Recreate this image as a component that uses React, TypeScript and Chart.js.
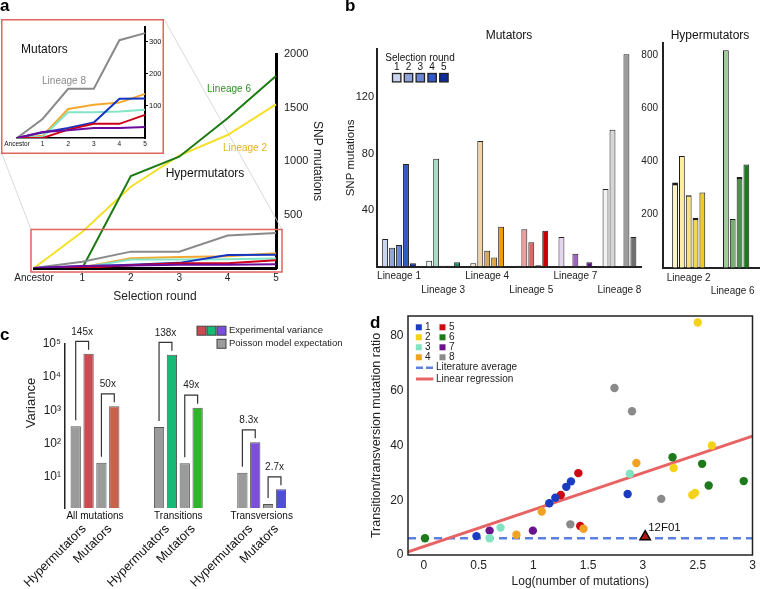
import React, { useEffect, useRef } from 'react';
import { Chart, registerables } from 'chart.js';
Chart.register(...registerables);

const FONT = "'Liberation Sans', Arial, Helvetica, sans-serif";
Chart.defaults.font.family = FONT;
Chart.defaults.color = '#222';

// ---------------- Panel a : cumulative SNP mutations per selection round ----------------
const roundLabels = ['Ancestor', '1', '2', '3', '4', '5'];
const snpLineage1 = [0, 17, 31, 48, 122, 123];
const snpLineage2 = [0, 339, 760, 1050, 1243, 1530];
const snpLineage3 = [0, 4, 80, 80, 82, 88];
const snpLineage4 = [0, 7, 90, 103, 110, 137];
const snpLineage5 = [0, 0, 26, 44, 44, 72];
const snpLineage6 = [0, 0, 860, 1040, 1399, 1794];
const snpLineage7 = [0, 19, 24, 31, 31, 34];
const snpLineage8 = [0, 59, 153, 153, 304, 326];
const mainTicks = [500, 1000, 1500, 2000];
const insetTicks = [100, 200, 300];

// ---------------- Panel b : SNP mutations per round ----------------
const mutLineages = ['Lineage 1', 'Lineage 3', 'Lineage 4', 'Lineage 5', 'Lineage 7', 'Lineage 8'];
const mutRound1 = [19.5, 4, 2.3, 0.5, 21, 55];
const mutRound2 = [13.3, 76.5, 89, 26.4, 0, 97];
const mutRound3 = [15.2, 0.6, 11.2, 17.2, 9, 0];
const mutRound4 = [72.7, 0.6, 6.3, 0.8, 0.6, 150.5];
const mutRound5 = [2.3, 3, 28.2, 25.4, 3, 21];
const mutTicks = [40, 80, 120];

const hypLineages = ['Lineage 2', 'Lineage 6'];
const hypRound1 = [320, 0];
const hypRound2 = [420, 818];
const hypRound3 = [272, 183];
const hypRound4 = [188, 341];
const hypRound5 = [283, 388];
const hypTicks = [200, 400, 600, 800];
const roundNames = ['1', '2', '3', '4', '5'];

// ---------------- Panel c : variance ----------------
const varGroups = ['All mutations', 'Transitions', 'Transversions'];
const poissonHyper = [333, 317, 13.4];
const experimentalHyper = [49000, 45700, 110];
const poissonMut = [27, 26, 1.56];
const experimentalMut = [1320, 1200, 4.3];
const foldHyper = ['145x', '138x', '8.3x'];
const foldMut = ['50x', '49x', '2.7x'];
const pairLabels = ['Hypermutators', 'Mutators'];
const varTickValues = [10, 100, 1000, 10000, 100000];
const varTickLabels = ['10¹', '10²', '10³', '10⁴', '10⁵'];

// ---------------- Panel d : Ts/Tv ratio vs log(number of mutations) ----------------
const dLineages = ['1', '2', '3', '4', '5', '6', '7', '8'];
const dX1 = [0.48, 1.145, 1.2, 1.3, 1.343, 1.86];
const dY1 = [6.9, 18.9, 20.9, 24.9, 26.9, 22.3];
const dX2 = [2.28, 2.5, 2.63, 2.45, 2.476];
const dY2 = [31.8, 84.9, 40.0, 21.9, 22.7];
const dX3 = [0.6, 0.7, 1.88];
const dY3 = [6.1, 10.0, 29.7];
const dX4 = [0.845, 1.076, 1.457, 1.94];
const dY4 = [7.4, 15.9, 9.6, 33.6];
const dX5 = [1.25, 1.41, 1.427];
const dY5 = [21.9, 29.9, 10.6];
const dX6 = [0.01, 2.27, 2.54, 2.6, 2.92];
const dY6 = [6.1, 35.7, 33.3, 25.4, 27.0];
const dX7 = [0.6, 0.995];
const dY7 = [8.9, 8.9];
const dX8 = [1.337, 1.74, 1.9, 2.167];
const dY8 = [11.2, 61.0, 52.5, 20.5];
const strain12F01 = { x: 2.02, y: 6.7 };
const literatureAverage = 6.1;
const regressionX = [-0.145, 3];
const regressionY = [1.2, 43.4];
const dTickValues = [0, 0.5, 1, 1.5, 2, 2.5, 3];
const dTickLabels = ['0', '0.5', '1', '1.5', '3', '2.5', '3'];
const dYTicks = [0, 20, 40, 60, 80];

// ---------------- styles ----------------
const lineColors = ['#1434c4', '#f4e02a', '#82e4c6', '#f5a82e', '#cc0018', '#1c7a12', '#6c0c9c', '#8a8a8a'];
const mutShades = [
  ['#c9d4f0', '#8fa4dc', '#6a88d6', '#3257c6', '#0f2a9c'],
  ['#eaf6f0', '#a9dcc6', '#6cc4a0', '#44ac82', '#1f8a5e'],
  ['#f7efdc', '#f0d4a4', '#d9a860', '#e0a444', '#f09a10'],
  ['#f6dede', '#f09c9c', '#e06666', '#c83030', '#c80000'],
  ['#e4d6ec', '#c8a8dc', '#a064c0', '#7a30a0', '#5a0a86'],
  ['#f2f2f2', '#d6d6d6', '#b0b0b0', '#9c9c9c', '#707070'],
];
const hypShades = [
  ['#fff4c8', '#ffeea0', '#f8e27a', '#f5d84a', '#f2ca20'],
  ['#d0e8c8', '#a0cc98', '#78b070', '#4a944a', '#1e7a1e'],
];
const hypCaps = [[3, 0], [1, 1], [1.5, 1], [2.5, 2.5], [1, 1]];
const expHyperColors = ['#cc4a52', '#18b877', '#7b4fd9'];
const expMutColors = ['#c9624a', '#2fb52a', '#4f4fd6'];
const dColors = ['#1a3cc0', '#f5d21a', '#82e3c3', '#f0a225', '#cc0a14', '#1c7a1a', '#6b138f', '#8a8a8a'];

function drawText(ctx: any, text: string, x: number, y: number, o: any = {}) {
  ctx.save();
  ctx.font = `${o.weight || 'normal'} ${o.size || 10}px ${FONT}`;
  ctx.fillStyle = o.color || '#222';
  ctx.textAlign = o.align || 'center';
  ctx.textBaseline = o.baseline || 'middle';
  ctx.translate(x, y);
  if (o.rot) ctx.rotate(o.rot);
  ctx.fillText(text, 0, 0);
  ctx.restore();
}

const common = {
  responsive: false,
  animation: false,
  devicePixelRatio: 1,
  events: [],
};
const noPlugins = { legend: { display: false }, tooltip: { enabled: false }, title: { display: false } };
const noGrid = { display: false, drawTicks: false };
const plain = (v: any) => String(v);

const allSnps = [snpLineage1, snpLineage2, snpLineage3, snpLineage4, snpLineage5, snpLineage6, snpLineage7, snpLineage8];
const drawOrder = [6, 4, 0, 2, 3, 7, 5, 1];

// ---------- a: main ----------
function configMain(): any {
  const zoomTop = 360;
  const plugin = {
    id: 'panelA',
    beforeDatasetsDraw(chart: any) {
      const { ctx, chartArea, scales } = chart;
      const rx0 = chartArea.left - 3, rx1 = chartArea.right + 6;
      const ry0 = scales.y.getPixelForValue(zoomTop);
      ctx.save();
      ctx.strokeStyle = '#cfcfcf';
      ctx.lineWidth = 0.8;
      ctx.beginPath();
      ctx.moveTo(2, 154); ctx.lineTo(rx0, ry0);
      ctx.moveTo(164, 19); ctx.lineTo(rx1, ry0);
      ctx.stroke();
      ctx.restore();
    },
    afterDatasetsDraw(chart: any) {
      const { ctx, chartArea, scales } = chart;
      const rx0 = chartArea.left - 3, rx1 = chartArea.right + 6;
      const ry0 = scales.y.getPixelForValue(zoomTop), ry1 = chartArea.bottom + 4;
      ctx.save();
      ctx.strokeStyle = '#e0645e';
      ctx.lineWidth = 1.5;
      ctx.strokeRect(rx0, ry0, rx1 - rx0, ry1 - ry0);
      ctx.restore();
      drawText(ctx, 'Lineage 6', 229, 89, { size: 10, color: '#2e8e22' });
      drawText(ctx, 'Lineage 2', 245, 148, { size: 10, color: '#e2b41e' });
      drawText(ctx, 'Hypermutators', 205, 174, { size: 12, color: '#111' });
    },
  };
  return {
    type: 'line',
    data: {
      labels: roundLabels,
      datasets: drawOrder.map((i) => ({
        data: allSnps[i], borderColor: lineColors[i], borderWidth: 2, pointRadius: 0, tension: 0, fill: false,
      })),
    },
    options: {
      ...common,
      layout: { padding: { top: 54, left: 34, right: 0, bottom: 0 } },
      plugins: noPlugins,
      scales: {
        x: {
          grid: noGrid,
          border: { display: true, color: '#000', width: 3 },
          ticks: { font: { size: 10 }, color: '#222', padding: 4, maxRotation: 0, autoSkip: false },
          title: { display: true, text: 'Selection round', font: { size: 12 }, color: '#222', padding: { top: 0, bottom: 6 } },
          afterFit: (s: any) => { s.height = 42; },
        },
        y: {
          position: 'right', min: 0, max: 2000,
          grid: noGrid,
          border: { display: true, color: '#000', width: 3 },
          ticks: { font: { size: 11 }, color: '#222', padding: 8, callback: plain },
          afterBuildTicks: (s: any) => { s.ticks = mainTicks.map((v) => ({ value: v })); },
          title: { display: true, text: 'SNP mutations', font: { size: 12 }, color: '#222', padding: { top: 20, bottom: 0 } },
          afterFit: (s: any) => { s.width = 69; },
        },
      },
    },
    plugins: [plugin],
  };
}

// ---------- a: inset ----------
function configInset(): any {
  const plugin = {
    id: 'inset',
    afterDraw(chart: any) {
      const { ctx, width, height } = chart;
      ctx.save();
      ctx.strokeStyle = '#e0645e';
      ctx.lineWidth = 1.5;
      ctx.strokeRect(0.75, 0.75, width - 1.5, height - 1.5);
      ctx.restore();
      drawText(ctx, 'Mutators', 20, 31, { size: 12, align: 'left', color: '#111' });
      drawText(ctx, 'Lineage 8', 63, 62, { size: 10, color: '#8a8a8a' });
    },
  };
  return {
    type: 'line',
    data: {
      labels: roundLabels,
      datasets: drawOrder.filter((i) => i !== 1 && i !== 5).map((i) => ({
        data: allSnps[i], borderColor: lineColors[i], borderWidth: 2, pointRadius: 0, tension: 0, fill: false,
      })),
    },
    options: {
      ...common,
      layout: { padding: { top: 8, left: 16, right: 0, bottom: 0 } },
      plugins: noPlugins,
      scales: {
        x: {
          grid: noGrid,
          border: { display: true, color: '#000', width: 1.5 },
          ticks: { font: { size: 6.5 }, color: '#111', padding: 2, maxRotation: 0, autoSkip: false },
          afterFit: (s: any) => { s.height = 16; },
        },
        y: {
          position: 'right', min: 0, max: 345,
          grid: { display: true, drawOnChartArea: false, drawTicks: true, tickLength: 3, color: '#000' },
          border: { display: true, color: '#000', width: 2 },
          ticks: { font: { size: 7.5 }, color: '#111', padding: 1 },
          afterBuildTicks: (s: any) => { s.ticks = insetTicks.map((v) => ({ value: v })); },
          afterFit: (s: any) => { s.width = 19; },
        },
      },
    },
    plugins: [plugin],
  };
}

// ---------- b: mutators ----------
function configMutators(): any {
  const rounds = [mutRound1, mutRound2, mutRound3, mutRound4, mutRound5];
  const plugin = {
    id: 'mut',
    afterDraw(chart: any) {
      const ctx = chart.ctx;
      drawText(ctx, 'Mutators', 169, 36, { size: 12, color: '#111' });
      drawText(ctx, 'Selection round', 80, 58.3, { size: 10, color: '#111' });
      for (let r = 0; r < 5; r++) {
        const cx = 56.7 + r * 11.8;
        drawText(ctx, roundNames[r], cx, 67.7, { size: 10, color: '#111' });
        ctx.save();
        ctx.fillStyle = mutShades[0][r];
        ctx.strokeStyle = '#222';
        ctx.lineWidth = 1.3;
        ctx.fillRect(cx - 4.2, 73.5, 8.4, 8.4);
        ctx.strokeRect(cx - 4.2, 73.5, 8.4, 8.4);
        ctx.restore();
      }
    },
  };
  return {
    type: 'bar',
    data: {
      labels: mutLineages,
      datasets: rounds.map((vals, r) => ({
        label: roundNames[r],
        data: vals,
        backgroundColor: mutShades.map((s) => s[r]),
        borderColor: '#222', borderWidth: 1,
        categoryPercentage: 0.79, barPercentage: 0.85,
      })),
    },
    options: {
      ...common,
      layout: { padding: { top: 49.4, left: 0, right: 1, bottom: 0 } },
      plugins: noPlugins,
      scales: {
        x: {
          offset: true,
          grid: { display: false, drawTicks: false, offset: true },
          border: { display: true, color: '#222', width: 2 },
          ticks: {
            font: { size: 10, lineHeight: 1.33 }, color: '#222', padding: 3.5, maxRotation: 0, autoSkip: false,
            callback: (_v: any, i: number) => (i % 2 ? ['', mutLineages[i]] : mutLineages[i]),
          },
          afterFit: (s: any) => { s.height = 33.5; },
        },
        y: {
          min: 0, max: 154,
          grid: noGrid,
          border: { display: true, color: '#222', width: 2 },
          ticks: { font: { size: 11 }, color: '#222', padding: 3 },
          afterBuildTicks: (s: any) => { s.ticks = mutTicks.map((v) => ({ value: v })); },
          title: { display: true, text: 'SNP mutations', font: { size: 11.5 }, color: '#222', padding: { top: 4, bottom: 0 } },
          afterFit: (s: any) => { s.width = 37; },
        },
      },
    },
    plugins: [plugin],
  };
}

// ---------- b: hypermutators ----------
function configHyper(): any {
  const rounds = [hypRound1, hypRound2, hypRound3, hypRound4, hypRound5];
  const plugin = {
    id: 'hyp',
    afterDraw(chart: any) {
      drawText(chart.ctx, 'Hypermutators', 70, 36, { size: 12, color: '#111' });
    },
  };
  return {
    type: 'bar',
    data: {
      datasets: rounds.map((vals, r) => ({
        label: roundNames[r],
        data: vals.map((v, i) => ({ x: i, y: v })),
        backgroundColor: hypShades.map((s) => s[r]),
        borderColor: '#1a1a1a',
        borderWidth: (c: any) => ({ top: hypCaps[r][c.dataIndex] || 1, left: 1, right: 1, bottom: 0 }),
        categoryPercentage: 0.775, barPercentage: 0.85,
      })),
    },
    options: {
      ...common,
      layout: { padding: { top: 42.7, left: 0, right: 0, bottom: 0 } },
      plugins: noPlugins,
      scales: {
        x: {
          type: 'linear', offset: false, min: -0.584, max: 1.62,
          grid: { display: false, drawTicks: false, offset: false },
          border: { display: true, color: '#222', width: 2 },
          afterBuildTicks: (s: any) => { s.ticks = [{ value: 0 }, { value: 1 }]; },
          ticks: {
            font: { size: 10, lineHeight: 1.33 }, color: '#222', padding: 3.5, maxRotation: 0, autoSkip: false,
            callback: (v: any, i: number) => (i % 2 ? ['', hypLineages[v]] : hypLineages[v]),
          },
          afterFit: (s: any) => { s.height = 32.3; },
        },
        y: {
          min: 0, max: 846,
          grid: noGrid,
          border: { display: true, color: '#222', width: 2 },
          ticks: { font: { size: 10 }, color: '#222', padding: 5 },
          afterBuildTicks: (s: any) => { s.ticks = hypTicks.map((v) => ({ value: v })); },
          afterFit: (s: any) => { s.width = 23; },
        },
      },
    },
    plugins: [plugin],
  };
}

// ---------- c ----------
function configVariance(): any {
  const folds = [foldHyper, foldMut];
  const plugin = {
    id: 'varc',
    afterDatasetsDraw(chart: any) {
      const ctx = chart.ctx;
      const metas = [0, 1, 2, 3].map((i) => chart.getDatasetMeta(i).data);
      for (let g = 0; g < 3; g++) {
        for (let p = 0; p < 2; p++) {
          const gb = metas[p * 2][g];
          const eb = metas[p * 2 + 1][g];
          const top = eb.y - 12.5;
          ctx.save();
          ctx.strokeStyle = '#333';
          ctx.lineWidth = 1.2;
          ctx.beginPath();
          ctx.moveTo(gb.x, gb.y - 6);
          ctx.lineTo(gb.x, top);
          ctx.lineTo(eb.x, top);
          ctx.lineTo(eb.x, eb.y - 4);
          ctx.stroke();
          ctx.restore();
          const cx = (gb.x + eb.x) / 2;
          drawText(ctx, folds[p][g], cx, top - 9.5, { size: 10, color: '#222' });
          drawText(ctx, pairLabels[p], cx + 2, 227, { size: 12.5, color: '#111', align: 'right', rot: -Math.PI / 4 });
        }
        const gc = (metas[0][g].x + metas[3][g].x) / 2;
        drawText(ctx, varGroups[g], gc, 216.7, { size: 10, color: '#111' });
      }
      // legend
      const boxes = [expHyperColors[0], expHyperColors[1], expHyperColors[2]];
      ctx.save();
      ctx.strokeStyle = '#444';
      ctx.lineWidth = 1;
      boxes.forEach((c, i) => {
        ctx.fillStyle = c;
        ctx.fillRect(197 + i * 10, 26.2, 9, 9);
        ctx.strokeRect(197 + i * 10, 26.2, 9, 9);
      });
      ctx.fillStyle = '#9b9b9b';
      ctx.fillRect(217, 39.3, 9, 9);
      ctx.strokeRect(217, 39.3, 9, 9);
      ctx.restore();
      drawText(ctx, 'Experimental variance', 229, 30.7, { size: 9.5, align: 'left', color: '#222' });
      drawText(ctx, 'Poisson model expectation', 229, 43.8, { size: 9.5, align: 'left', color: '#222' });
      drawText(ctx, 'Variance', 31.7, 103, { size: 13, color: '#222', rot: -Math.PI / 2 });
    },
  };
  const ds = (vals: number[], colors: string[]) => ({
    data: vals.map((v, i) => ({ x: i, y: v })),
    backgroundColor: colors,
    borderColor: '#555',
    borderWidth: 1,
    categoryPercentage: 0.617,
    barPercentage: 0.8,
  });
  const grays = ['#9b9b9b', '#9b9b9b', '#9b9b9b'];
  return {
    type: 'bar',
    data: {
      datasets: [ds(poissonHyper, grays), ds(experimentalHyper, expHyperColors), ds(poissonMut, grays), ds(experimentalMut, expMutColors)],
    },
    options: {
      ...common,
      layout: { padding: { top: 43.5, left: 0, right: 70, bottom: 0 } },
      plugins: noPlugins,
      scales: {
        x: {
          type: 'linear', offset: false, min: -0.36, max: 2.46,
          grid: { display: false, drawTicks: false, offset: false },
          border: { display: false },
          ticks: { display: false },
          afterFit: (s: any) => { s.height = 81; },
        },
        y: {
          type: 'logarithmic', min: 1.19, max: 100000,
          grid: noGrid,
          border: { display: true, color: '#222', width: 1.5 },
          afterBuildTicks: (s: any) => { s.ticks = varTickValues.map((v) => ({ value: v })); },
          ticks: { font: { size: 12 }, color: '#222', padding: 4, callback: (_v: any, i: number) => varTickLabels[i] },
          afterFit: (s: any) => { s.width = 65; },
        },
      },
    },
    plugins: [plugin],
  };
}

// ---------- d ----------
function configRatio(): any {
  const xs = [dX1, dX2, dX3, dX4, dX5, dX6, dX7, dX8];
  const ys = [dY1, dY2, dY3, dY4, dY5, dY6, dY7, dY8];
  const plugin = {
    id: 'ratio',
    afterDraw(chart: any) {
      const { ctx, chartArea } = chart;
      ctx.save();
      ctx.strokeStyle = '#222';
      ctx.lineWidth = 1.5;
      ctx.strokeRect(chartArea.left, chartArea.top, chartArea.right - chartArea.left, chartArea.bottom - chartArea.top);
      for (let i = 0; i < 8; i++) {
        const col = i < 4 ? 0 : 1;
        const row = i % 4;
        const bx = col ? 77.5 : 53.8;
        const by = 27.3 + row * 10;
        ctx.fillStyle = dColors[i];
        ctx.fillRect(bx - 3, by - 3, 6, 6);
        drawText(ctx, dLineages[i], col ? 84 : 60, by, { size: 10, align: 'left', color: '#222' });
      }
      ctx.strokeStyle = '#5b80e0';
      ctx.lineWidth = 2.5;
      ctx.setLineDash([7, 3]);
      ctx.beginPath();
      ctx.moveTo(51, 67.7); ctx.lineTo(68.3, 67.7);
      ctx.stroke();
      ctx.setLineDash([]);
      ctx.strokeStyle = '#e86464';
      ctx.lineWidth = 3;
      ctx.beginPath();
      ctx.moveTo(51, 79); ctx.lineTo(68.3, 79);
      ctx.stroke();
      ctx.restore();
      drawText(ctx, 'Literature average', 71, 67.7, { size: 10, align: 'left', color: '#222' });
      drawText(ctx, 'Linear regression', 71, 79, { size: 10, align: 'left', color: '#222' });
      const px = chart.scales.x.getPixelForValue(strain12F01.x);
      const py = chart.scales.y.getPixelForValue(strain12F01.y);
      drawText(ctx, '12F01', px + 3, py - 9, { size: 11.5, align: 'left', color: '#111' });
    },
  };
  const pointSets = xs.map((xv, k) => ({
    data: xv.map((x, i) => ({ x, y: ys[k][i] })),
    backgroundColor: dColors[k],
    borderWidth: 0,
    pointRadius: 4.2,
    showLine: false,
  }));
  return {
    type: 'scatter',
    data: {
      datasets: [
        {
          data: [strain12F01], pointStyle: 'triangle', pointRadius: 6, backgroundColor: '#b01818',
          borderColor: '#000', borderWidth: 1.5, showLine: false,
        },
        ...pointSets,
        {
          data: regressionX.map((x, i) => ({ x, y: regressionY[i] })), showLine: true, borderColor: '#e86464',
          borderWidth: 3, pointRadius: 0,
        },
        {
          data: [{ x: regressionX[0], y: literatureAverage }, { x: regressionX[1], y: literatureAverage }], showLine: true,
          borderColor: '#5b80e0', borderWidth: 2.5, borderDash: [8, 5], pointRadius: 0,
        },
      ],
    },
    options: {
      ...common,
      layout: { padding: { top: 16, left: 0, right: 3, bottom: 0 } },
      plugins: noPlugins,
      scales: {
        x: {
          type: 'linear', min: -0.145, max: 3,
          grid: noGrid,
          border: { display: false },
          afterBuildTicks: (s: any) => { s.ticks = dTickValues.map((v) => ({ value: v })); },
          ticks: { font: { size: 12 }, color: '#222', padding: 3, maxRotation: 0, callback: (_v: any, i: number) => dTickLabels[i] },
          title: { display: true, text: 'Log(number of mutations)', font: { size: 12 }, color: '#222', padding: { top: 0, bottom: 0 } },
          afterFit: (s: any) => { s.height = 34; },
        },
        y: {
          min: 0, max: 87.3,
          grid: noGrid,
          border: { display: false },
          afterBuildTicks: (s: any) => { s.ticks = dYTicks.map((v) => ({ value: v })); },
          ticks: { font: { size: 12 }, color: '#222', padding: 4.5 },
          title: { display: true, text: 'Transition/transversion mutation ratio', font: { size: 12.5 }, color: '#222', padding: { top: 4, bottom: 0 } },
          afterFit: (s: any) => { s.width = 43; },
        },
      },
    },
    plugins: [plugin],
  };
}

function ChartCanvas({ left, top, width, height, make, bg }: any) {
  const ref = useRef<HTMLCanvasElement>(null);
  useEffect(() => {
    const chart = new Chart(ref.current as HTMLCanvasElement, make());
    return () => chart.destroy();
  }, []);
  return (
    <canvas
      ref={ref}
      width={width}
      height={height}
      style={{ position: 'absolute', left, top, width, height, background: bg || 'transparent' }}
    />
  );
}

const letter = (left: number, top: number): any => ({
  position: 'absolute', left, top, font: `bold 17px ${FONT}`, lineHeight: '17px', color: '#000',
});

export default function App() {
  return (
    <div style={{ position: 'absolute', left: 0, top: 0, width: 760, height: 589, background: '#fff', overflow: 'hidden' }}>
      <ChartCanvas left={0} top={0} width={345} height={310} make={configMain} />
      <ChartCanvas left={1} top={19} width={163} height={135} make={configInset} bg="#fff" />
      <ChartCanvas left={340} top={0} width={305} height={300} make={configMutators} />
      <ChartCanvas left={640} top={0} width={120} height={300} make={configHyper} />
      <ChartCanvas left={0} top={300} width={370} height={289} make={configVariance} />
      <ChartCanvas left={365} top={300} width={395} height={289} make={configRatio} />
      <div style={letter(0, -2.7)}>a</div>
      <div style={letter(345, -2.7)}>b</div>
      <div style={letter(0, 325.6)}>c</div>
      <div style={letter(370, 313.9)}>d</div>
    </div>
  );
}
